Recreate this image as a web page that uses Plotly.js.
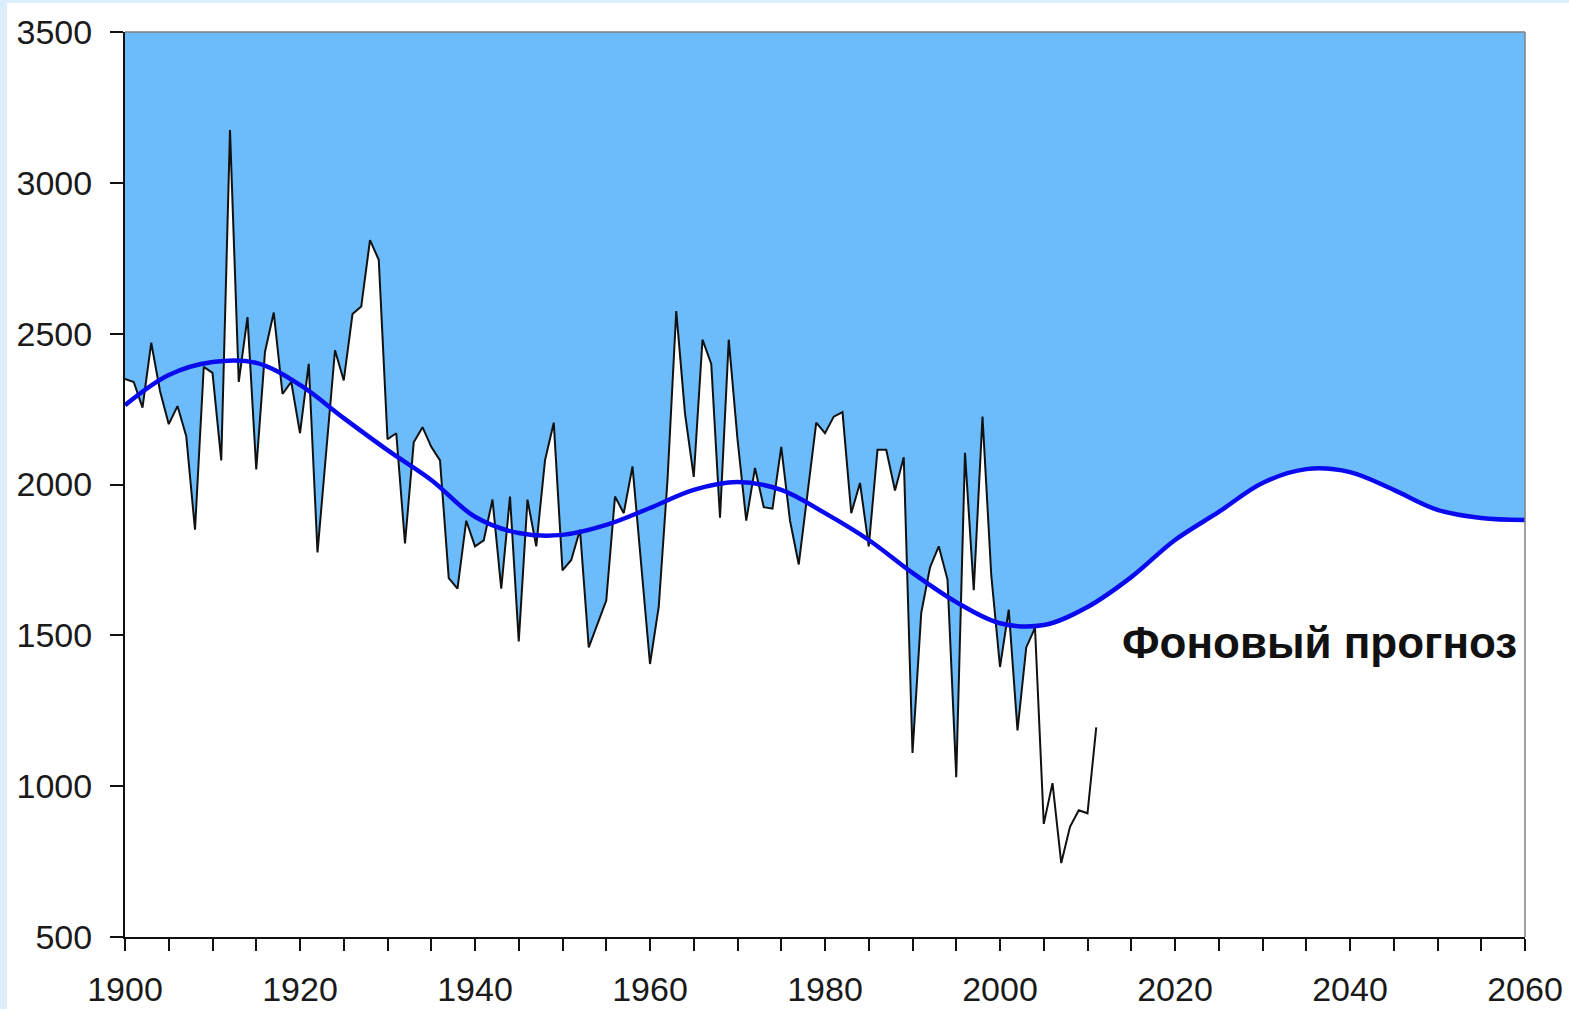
<!DOCTYPE html>
<html>
<head>
<meta charset="utf-8">
<script src="https://cdn.plot.ly/plotly-3.0.1.min.js"></script>
<style>
  html, body { margin: 0; padding: 0; background: #ffffff; }
  #chart { width: 1569px; height: 1009px; }
</style>
</head>
<body>
<div id="chart"></div>
<script>
// Observed annual series (1900-2011)
const years = [];
for (let y = 1900; y <= 2011; y++) years.push(y);
const values = [
  2350, 2340, 2255, 2470, 2310, 2200, 2260, 2160, 1850, 2390,
  2370, 2080, 3175, 2340, 2555, 2050, 2440, 2570, 2300, 2340,
  2170, 2400, 1775, 2115, 2445, 2345, 2565, 2590, 2810, 2745,
  2150, 2170, 1805, 2140, 2190, 2125, 2080, 1690, 1655, 1880,
  1795, 1815, 1950, 1655, 1960, 1480, 1950, 1795, 2080, 2205,
  1715, 1750, 1850, 1460, 1540, 1615, 1960, 1905, 2060, 1740,
  1405, 1595, 2015, 2575, 2235, 2025, 2480, 2400, 1890, 2480,
  2150, 1880, 2055, 1925, 1920, 2125, 1880, 1735, 1980, 2205,
  2170, 2225, 2240, 1905, 2005, 1795, 2115, 2115, 1980, 2090,
  1110, 1575, 1725, 1795, 1685, 1030, 2105, 1650, 2225, 1700,
  1395, 1585, 1185, 1460, 1525, 875, 1010, 745, 865, 920,
  910, 1195
];

// Background forecast curve ("Фоновый прогноз")
const curveYears = [1900, 1905, 1910, 1915, 1920, 1925, 1930, 1935, 1940, 1945,
  1950, 1955, 1960, 1965, 1970, 1975, 1980, 1985, 1990, 1995,
  2000, 2005, 2010, 2015, 2020, 2025, 2030, 2035, 2040, 2045,
  2050, 2055, 2060];
const curveValues = [2263, 2363, 2406, 2403, 2330, 2220, 2114, 2015, 1893, 1839,
  1833, 1866, 1922, 1982, 2008, 1982, 1905, 1816, 1707, 1610,
  1540, 1534, 1594, 1693, 1816, 1909, 2005, 2051, 2041, 1982,
  1916, 1889, 1882];

// Axis ticks
const xTickVals = [];
for (let y = 1900; y <= 2060; y += 5) xTickVals.push(y);
const xTickText = xTickVals.map(v => (v % 20 === 0 ? String(v) : ''));
const yTickVals = [500, 1000, 1500, 2000, 2500, 3000, 3500];
const labelText = 'Фоновый прогноз';
const fillSwitchYear = 2004;

// Lower boundary of the blue area: data up to 2004, then forecast curve
const bx = [], by = [];
years.forEach((y, i) => { if (y <= fillSwitchYear) { bx.push(y); by.push(values[i]); } });
curveYears.forEach((y, i) => { if (y > fillSwitchYear) { bx.push(y); by.push(curveValues[i]); } });

const traces = [
  { x: [1900, 2060], y: [3500, 3500], mode: 'lines', line: { width: 0, color: 'rgba(0,0,0,0)' }, hoverinfo: 'skip', showlegend: false },
  { x: bx, y: by, mode: 'lines', fill: 'tonexty', fillcolor: '#6cbcfb', line: { width: 0, color: 'rgba(0,0,0,0)' }, hoverinfo: 'skip', showlegend: false },
  { x: years, y: values, mode: 'lines', line: { color: '#111111', width: 2 }, showlegend: false },
  { x: curveYears, y: curveValues, mode: 'lines', line: { color: '#0a0aee', width: 4.5, shape: 'spline', smoothing: 1 }, showlegend: false }
];

const stripe = '#dcedfb';
const layout = {
  width: 1569, height: 1009,
  margin: { l: 125, r: 44, t: 32, b: 72, pad: 0 },
  paper_bgcolor: '#ffffff', plot_bgcolor: '#ffffff',
  font: { family: 'Liberation Sans, Arial, sans-serif', size: 34, color: '#1a1a1a' },
  xaxis: {
    range: [1900, 2060], tickmode: 'array', tickvals: xTickVals, ticktext: xTickText,
    ticks: 'outside', ticklen: 12, tickwidth: 2, tickcolor: '#111',
    showline: true, linecolor: '#111', linewidth: 2, showgrid: false, zeroline: false,
    ticklabelstandoff: 9, fixedrange: true
  },
  yaxis: {
    range: [500, 3500], tickmode: 'array', tickvals: yTickVals,
    ticks: 'outside', ticklen: 13, tickwidth: 2, tickcolor: '#111',
    showline: true, linecolor: '#111', linewidth: 2, showgrid: false, zeroline: false,
    ticklabelstandoff: 11, fixedrange: true
  },
  shapes: [
    { type: 'line', xref: 'paper', yref: 'paper', x0: 0, x1: 1, y0: 1, y1: 1, line: { color: '#808080', width: 1.5 } },
    { type: 'line', xref: 'paper', yref: 'paper', x0: 1, x1: 1, y0: 0, y1: 1, line: { color: '#808080', width: 1.5 } },
    { type: 'rect', xref: 'paper', yref: 'paper', x0: -125/1400, x1: -118/1400, y0: -72/905, y1: 937/905, fillcolor: stripe, line: { width: 0 }, layer: 'below' },
    { type: 'rect', xref: 'paper', yref: 'paper', x0: -125/1400, x1: 1444/1400, y0: 934/905, y1: 937/905, fillcolor: stripe, line: { width: 0 }, layer: 'below' }
  ],
  annotations: [
    { xref: 'paper', yref: 'paper', x: 0.853, y: 0.325, xanchor: 'center', yanchor: 'middle',
      text: '<b>' + labelText + '</b>', showarrow: false, font: { size: 44, color: '#111', family: 'Liberation Sans, Arial, sans-serif' } }
  ]
};

Plotly.newPlot('chart', traces, layout, { displayModeBar: false, staticPlot: true });
</script>
</body>
</html>
